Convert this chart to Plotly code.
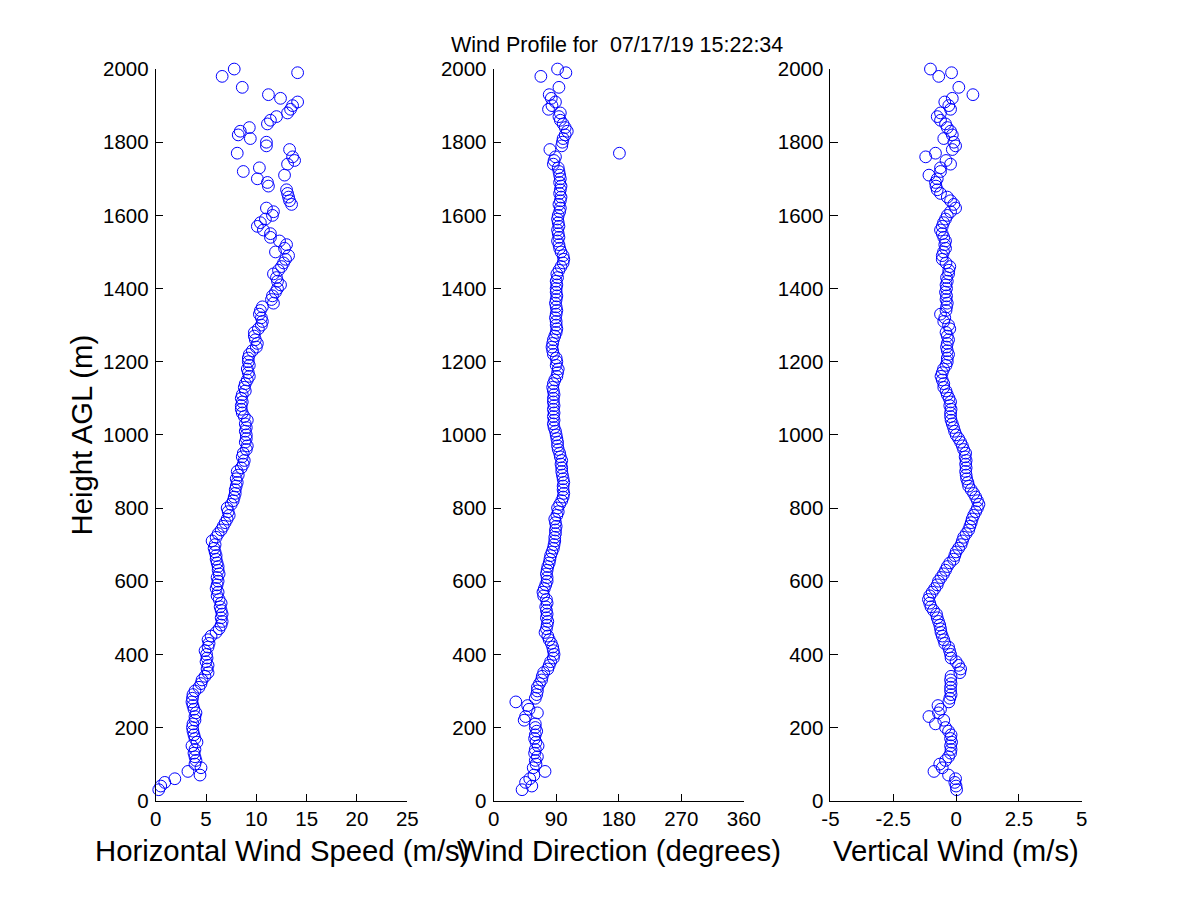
import plotly.graph_objects as go

# ---------------- data ----------------
heights = [30, 40, 50, 60, 70, 80, 90, 100,
           110, 120, 130, 140, 150, 160, 170, 180, 190, 200,
           210, 220, 230, 240, 250, 260, 270, 280, 290, 300,
           310, 320, 330, 340, 350, 360, 370, 380, 390, 400,
           410, 420, 430, 440, 450, 460, 470, 480, 490, 500,
           510, 520, 530, 540, 550, 560, 570, 580, 590, 600,
           610, 620, 630, 640, 650, 660, 670, 680, 690, 700,
           710, 720, 730, 740, 750, 760, 770, 780, 790, 800,
           810, 820, 830, 840, 850, 860, 870, 880, 890, 900,
           910, 920, 930, 940, 950, 960, 970, 980, 990, 1000,
           1010, 1020, 1030, 1040, 1050, 1060, 1070, 1080, 1090, 1100,
           1110, 1120, 1130, 1140, 1150, 1160, 1170, 1180, 1190, 1200,
           1210, 1220, 1230, 1240, 1250, 1260, 1270, 1280, 1290, 1300,
           1310, 1320, 1330, 1340, 1350, 1360, 1370, 1380, 1390, 1400,
           1410, 1420, 1430, 1440, 1450, 1460, 1470, 1480, 1490, 1500,
           1510, 1520, 1530, 1540, 1550, 1560, 1570, 1580, 1590, 1600,
           1610, 1620, 1630, 1640, 1650, 1660, 1670, 1680, 1690, 1700,
           1710, 1720, 1730, 1740, 1750, 1760, 1770, 1780, 1790, 1800,
           1810, 1820, 1830, 1840, 1850, 1860, 1870, 1880, 1890, 1900,
           1910, 1920, 1930, 1940, 1950, 1960, 1970, 1980, 1990, 2000]

speed = [0.3, 0.5, 0.9, 1.9, 4.4, 3.2, 4.5, 3.9,
         4.0, 3.9, 3.8, 3.9, 3.6, 4.1, 3.9, 3.8, 3.7, 3.65,
         3.7, 3.9, 3.9, 4.0, 3.8, 3.7, 3.6, 3.65, 3.7, 3.9,
         4.3, 4.5, 4.6, 4.9, 5.2, 5.1, 5.2, 5.0, 5.1, 5.05,
         4.9, 5.2, 5.3, 5.2, 5.5, 6.0, 6.3, 6.5, 6.6, 6.5,
         6.6, 6.5, 6.4, 6.5, 6.3, 6.1, 6.2, 6.0, 6.1, 6.2,
         6.1, 6.3, 6.2, 6.2, 6.1, 6.0, 6.0, 5.9, 5.8, 5.9,
         5.6, 6.0, 6.2, 6.5, 6.7, 6.9, 7.1, 7.3, 7.2, 7.1,
         7.5, 7.7, 7.8, 7.9, 7.9, 8.0, 8.1, 8.0, 8.2, 8.1,
         8.5, 8.7, 8.8, 8.6, 8.7, 9.0, 9.1, 8.9, 9.0, 9.0,
         8.9, 9.0, 8.9, 9.1, 8.8, 8.6, 8.5, 8.5, 8.6, 8.5,
         8.6, 8.9, 8.8, 8.9, 9.1, 9.3, 9.2, 9.1, 9.3, 9.2,
         9.2, 9.3, 9.6, 10.0, 10.1, 9.9, 9.8, 9.8, 10.2, 10.5,
         10.6, 10.5, 10.3, 10.4, 10.6, 11.7, 11.5, 11.6, 11.9, 12.1,
         12.4, 12.1, 12.0, 11.7, 12.2, 12.5, 12.7, 12.9, 13.2, 11.9,
         12.8, 13.0, 12.3, 11.4, 11.4, 10.7, 10.1, 10.4, 10.9, 11.6,
         11.7, 11.0, 13.5, 13.3, 13.2, 13.1, 13.0, 11.2, 11.1, 10.1,
         12.8, 8.7, 10.3, 13.1, 13.8, 13.6, 8.1, 13.3, 11.0, 11.0,
         9.4, 8.2, 8.4, 9.3, 11.1, 11.4, 12.0, 13.1, 13.4, 13.6,
         14.1, 12.4, 11.2, None, 8.6, None, None, 6.6, 14.1, 7.8]

direction = [41, 55, 46, 52, 58, 74, 57, 61,
             60, 63, 59, 60, 64, 61, 59, 60, 62, 60,
             60, 44, 46, 63, 51, 49, 32, 60, 62, 63,
             63, 66, 69, 70, 72, 78, 80, 82, 86, 87,
             86, 85, 83, 80, 78, 74, 76, 77, 78, 76,
             77, 76, 75, 77, 76, 72, 71, 73, 75, 77,
             77, 76, 77, 78, 80, 81, 82, 84, 86, 87,
             88, 88, 89, 89, 90, 89, 88, 91, 93, 92,
             95, 98, 100, 101, 100, 100, 101, 100, 99, 98,
             98, 97, 98, 96, 95, 93, 92, 92, 91, 90,
             89, 87, 86, 87, 86, 87, 86, 87, 86, 86,
             87, 86, 85, 86, 88, 91, 92, 93, 90, 91,
             90, 86, 85, 84, 85, 86, 88, 90, 91, 90,
             90, 89, 90, 91, 90, 89, 90, 91, 90, 90,
             91, 90, 92, 91, 94, 97, 100, 101, 100, 97,
             95, 94, 92, 94, 93, 92, 94, 93, 92, 93,
             95, 96, 94, 96, 97, 95, 96, 97, 95, 96,
             95, 94, 93, 86, 87, 89, 181, 81, 98, 99,
             100, 103, 106, 103, 100, 96, 94, 96, 79, 84,
             89, 83, 80, None, 94, None, None, 68, 104, 92]

vertical = [0.02, 0.0, -0.05, -0.02, -0.3, -0.88, -0.55, -0.65,
            -0.42, -0.3, -0.22, -0.2, -0.22, -0.18, -0.22, -0.2, -0.3, -0.42,
            -0.82, -0.49, -1.08, -0.7, -0.62, -0.72, -0.29, -0.25, -0.2, -0.22,
            -0.22, -0.2, -0.22, -0.2, 0.15, 0.18, 0.1, 0.0, -0.2, -0.22,
            -0.26, -0.3, -0.45, -0.49, -0.55, -0.6, -0.62, -0.65, -0.7, -0.75,
            -0.78, -0.9, -1.0, -1.05, -1.1, -1.05, -0.95, -0.85, -0.75, -0.7,
            -0.6, -0.5, -0.42, -0.35, -0.25, -0.1, -0.05, 0.0, 0.1, 0.2,
            0.25, 0.3, 0.4, 0.5, 0.55, 0.6, 0.64, 0.7, 0.78, 0.85,
            0.91, 0.85, 0.78, 0.7, 0.6, 0.5, 0.47, 0.42, 0.4, 0.38,
            0.4, 0.38, 0.4, 0.36, 0.38, 0.3, 0.25, 0.18, 0.1, 0.0,
            -0.06, -0.1, -0.15, -0.2, -0.22, -0.22, -0.2, -0.25, -0.22, -0.28,
            -0.35, -0.4, -0.49, -0.49, -0.55, -0.6, -0.55, -0.5, -0.4, -0.35,
            -0.35, -0.3, -0.35, -0.38, -0.35, -0.3, -0.35, -0.4, -0.25, -0.3,
            -0.49, -0.45, -0.62, -0.4, -0.38, -0.35, -0.4, -0.38, -0.42, -0.38,
            -0.4, -0.35, -0.38, -0.3, -0.29, -0.25, -0.4, -0.55, -0.55, -0.5,
            -0.42, -0.45, -0.42, -0.49, -0.55, -0.62, -0.55, -0.5, -0.42, -0.35,
            -0.22, -0.02, -0.09, -0.22, -0.35, -0.62, -0.75, -0.8, -0.82, -0.75,
            -1.08, -0.62, -0.62, -0.22, -0.4, -1.21, -0.82, -0.15, -0.02, -0.09,
            -0.49, -0.15, -0.22, -0.35, -0.42, -0.62, -0.75, -0.62, -0.22, -0.29,
            -0.45, -0.15, 0.67, None, 0.11, None, None, -0.69, -0.18, -1.02]

y_ticks = [0, 200, 400, 600, 800, 1000, 1200, 1400, 1600, 1800, 2000]
speed_ticks = [0, 5, 10, 15, 20, 25]
dir_ticks = [0, 90, 180, 270, 360]
vert_ticks = [-5, -2.5, 0, 2.5, 5]
vert_tick_text = ["-5", "-2.5", "0", "2.5", "5"]

title_text = "Wind Profile for \u00a007/17/19 15:22:34"
y_title = "Height AGL (m)"
x_titles = ["Horizontal Wind Speed (m/s)", "Wind Direction (degrees)", "Vertical Wind (m/s)"]

assert len(heights) == len(speed) == len(direction) == len(vertical)

# ---------------- figure ----------------
OFF = 8                       # body margin of the page
W, H = 1200 - 2 * OFF, 900 - 2 * OFF
# observed page -> photo mapping (photo = K*page + B); invert to hit target pixels
KX, BX, KY, BY = 0.977, 9.6, 0.975, 11.4
S = (KX + KY) / 2
FONT = "Liberation Sans, Arial, Helvetica, sans-serif"


def fx(px):
    page = (px - BX) / KX
    return (page - OFF) / W


def fy(py):
    page = (py - BY) / KY
    return 1 - (page - OFF) / H


domains = [(fx(156), fx(407.3)), (fx(493.5), fx(743.5)), (fx(830), fx(1081))]
ydom = (fy(800.7), fy(68.3))

fig = go.Figure()
series = [speed, direction, vertical]
for i, xs in enumerate(series):
    fig.add_trace(go.Scatter(
        x=xs, y=heights, mode="markers",
        xaxis="x" if i == 0 else f"x{i+1}",
        yaxis="y" if i == 0 else f"y{i+1}",
        marker=dict(symbol="circle-open", size=11.5 / S, color="#0000FF",
                    line=dict(width=1, color="#0000FF")),
        cliponaxis=False, showlegend=False,
    ))

axis_common = dict(showgrid=False, zeroline=False, showline=True, linecolor="black",
                   linewidth=1, ticks="inside", ticklen=7 / S, tickwidth=1, tickcolor="black",
                   tickfont=dict(family=FONT, size=20 / S, color="black"), mirror=False)

xranges = [[0, 25], [0, 360], [-5, 5]]
xtickvals = [speed_ticks, dir_ticks, vert_ticks]
xticktext = [[str(v) for v in speed_ticks], [str(v) for v in dir_ticks], vert_tick_text]

layout = dict(width=W, height=H, margin=dict(l=0, r=0, t=0, b=0),
              paper_bgcolor="white", plot_bgcolor="white")
for i in range(3):
    sx = "" if i == 0 else str(i + 1)
    layout[f"xaxis{sx}"] = dict(axis_common, domain=list(domains[i]), range=xranges[i],
                                tickmode="array", tickvals=xtickvals[i], ticktext=xticktext[i],
                                anchor=f"y{sx}", ticklabelstandoff=0)
    layout[f"yaxis{sx}"] = dict(axis_common, domain=list(ydom), range=[0, 2000],
                                tickmode="array", tickvals=y_ticks,
                                anchor=f"x{sx}", ticklabelstandoff=2)
fig.update_layout(**layout)

annotations = [dict(text=title_text, x=fx(617), y=fy(44), xref="paper", yref="paper",
                    showarrow=False, xanchor="center", yanchor="middle",
                    font=dict(family=FONT, size=21.5, color="black"))]
for i in range(3):
    cx = (domains[i][0] + domains[i][1]) / 2
    annotations.append(dict(text=x_titles[i], x=cx, y=fy(851), xref="paper", yref="paper",
                            showarrow=False, xanchor="center", yanchor="middle",
                            font=dict(family=FONT, size=29.3, color="black")))
annotations.append(dict(text=y_title, x=fx(82), y=(ydom[0] + ydom[1]) / 2, xref="paper",
                        yref="paper", showarrow=False, textangle=-90,
                        xanchor="center", yanchor="middle",
                        font=dict(family=FONT, size=29.3, color="black")))
fig.update_layout(annotations=annotations)

fig.write_html("out.html", config={"displayModeBar": False})
